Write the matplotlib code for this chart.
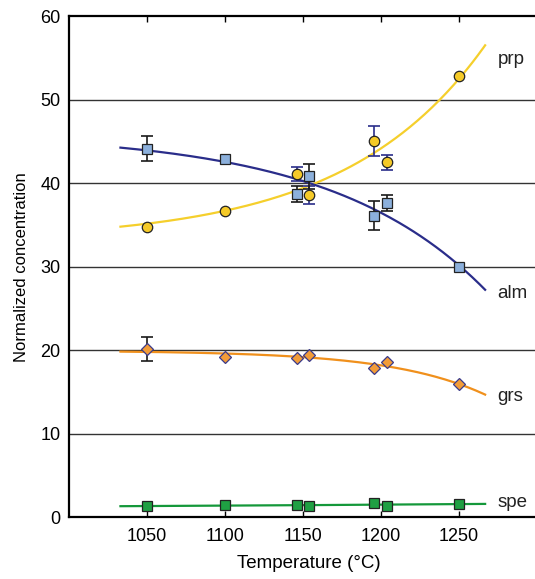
import numpy as np
import matplotlib.pyplot as plt

plt.rcParams['font.family'] = ['Liberation Sans', 'DejaVu Sans']

# temperatures of the experiments (deg C)
temps = [1050, 1100, 1146, 1154, 1196, 1204, 1250]

# normalized concentrations
prp = [34.7, 36.7, 41.1, 38.6, 45.0, 42.5, 52.8]
alm = [44.1, 42.9, 38.7, 40.8, 36.1, 37.6, 29.9]
grs = [20.1, 19.2, 19.0, 19.4, 17.8, 18.6, 15.9]
spe = [1.3, 1.4, 1.45, 1.35, 1.65, 1.35, 1.55]

# error bars (half widths), 0 where no bar is drawn
prp_err = [0, 0, 0.85, 1.1, 1.8, 0.9, 0]
alm_err = [1.5, 0, 0.95, 1.5, 1.75, 0.95, 0]
grs_err = [1.45, 0, 0, 0, 0, 0, 0]

# end labels and their heights
labels = ['prp', 'alm', 'grs', 'spe']
label_y = [54.8, 26.8, 14.5, 1.7]

fit_range = (1033, 1267)

fig = plt.figure(figsize=(5.35, 5.79), dpi=100)
ax = fig.add_axes([0.129, 0.107, 0.871, 0.865])


def fit_curve(x, y):
    # least squares fit of y = a + b*exp((T-1000)/tau), tau picked by grid search
    x = np.array(x, float)
    y = np.array(y, float)
    best = None
    for tau in np.linspace(15, 600, 600):
        X = np.column_stack([np.ones_like(x), np.exp((x - 1000) / tau)])
        c, *_ = np.linalg.lstsq(X, y, rcond=None)
        r = np.sum((X @ c - y) ** 2)
        if best is None or r < best[0]:
            best = (r, tau, c)
    _, tau, c = best
    t = np.linspace(fit_range[0], fit_range[1], 200)
    return t, c[0] + c[1] * np.exp((t - 1000) / tau)


series = [
    ('prp', prp, prp_err, '#f5cf2c', '#f5ca28', 'o', 7.5),
    ('alm', alm, alm_err, '#2a2d8a', '#8cb0dc', 's', 7.5),
    ('grs', grs, grs_err, '#f0901c', '#f29c38', 'D', 6.5),
    ('spe', spe, None, '#14983a', '#1fa043', 's', 7),
]

for name, vals, err, lc, fc, mk, ms in series:
    t, v = fit_curve(temps, vals)
    ax.plot(t, v, color=lc, lw=1.6, zorder=2)
    if err is not None:
        xs = [x for x, e in zip(temps, err) if e > 0]
        ys = [y for y, e in zip(vals, err) if e > 0]
        es = [e for e in err if e > 0]
        ecol = '#2a2d8a' if name == 'prp' else '#1a1a1a'
        ax.errorbar(xs, ys, yerr=es, fmt='none', ecolor=ecol, elinewidth=1.2,
                    capsize=4, capthick=1.2, zorder=3)
    edge = '#3a3a8a' if name == 'grs' else '#222222'
    ax.plot(temps, vals, ls='none', marker=mk, ms=ms, mfc=fc, mec=edge,
            mew=0.9, zorder=4)

for lab, ly in zip(labels, label_y):
    ax.text(1275, ly, lab, fontsize=13.5, va='center', color='#222222')

ax.set_xlim(1000, 1299)
ax.set_ylim(0, 60)
ax.set_xticks([1050, 1100, 1150, 1200, 1250])
ax.set_yticks([0, 10, 20, 30, 40, 50, 60])
for g in [10, 20, 30, 40, 50]:
    ax.axhline(g, color='#333333', lw=1.0, zorder=1)

ax.spines['right'].set_visible(False)
for s in ['left', 'bottom', 'top']:
    ax.spines[s].set_linewidth(1.6)
ax.tick_params(axis='x', direction='in', top=True, length=4, width=1,
               labelsize=13, pad=8)
ax.tick_params(axis='y', length=0, labelsize=13, pad=6)
ax.set_xlabel('Temperature (°C)', fontsize=13.5, labelpad=7)
ax.xaxis.set_label_coords(0.515, -0.075)
ax.set_ylabel('Normalized concentration', fontsize=12, labelpad=8)

fig.savefig('out.png', dpi=100)
